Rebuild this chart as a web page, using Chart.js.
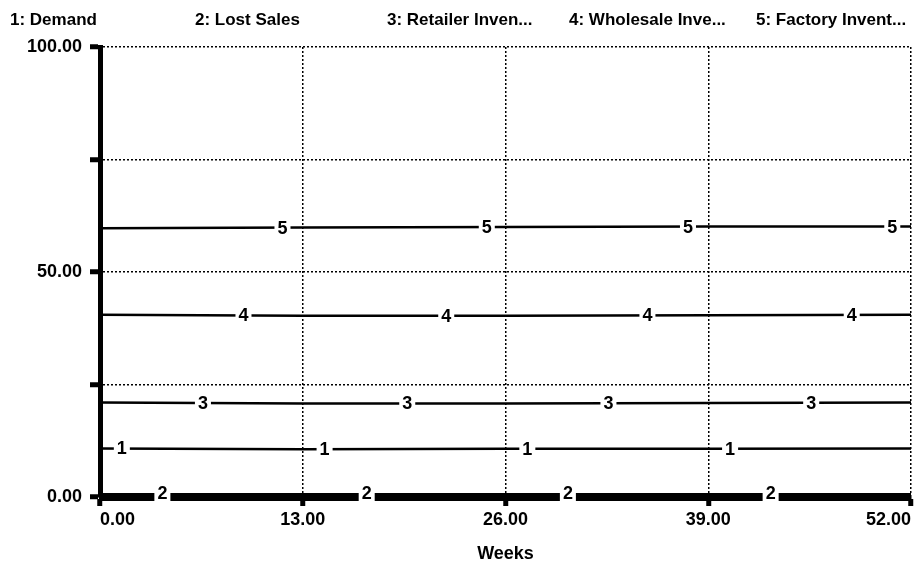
<!DOCTYPE html>
<html>
<head>
<meta charset="utf-8">
<script src="https://cdn.jsdelivr.net/npm/chart.js@4.4.1/dist/chart.umd.min.js"></script>
<style>
  html, body { margin: 0; padding: 0; background: #fff; }
  #wrap { width: 914px; height: 565px; }
</style>
</head>
<body>
<div id="wrap"><canvas id="lineChart"></canvas></div>
<script>
const weeks = [0, 13, 26, 39, 52];
const demand = [10.8, 10.6, 10.7, 10.7, 10.8];
const lostSales = [0, 0, 0, 0, 0];
const retailerInv = [21.0, 20.8, 20.8, 20.9, 21.0];
const wholesaleInv = [40.5, 40.3, 40.3, 40.4, 40.5];
const factoryInv = [59.7, 59.9, 60.0, 60.1, 60.1];

const seriesNames = ["Demand", "Lost Sales", "Retailer Inven...", "Wholesale Inve...", "Factory Invent..."];

// where the number markers sit on each line (in weeks)
const markerWeeks = [
  [1.4, 14.4, 27.4, 40.4],
  [4.0, 17.1, 30.0, 43.0],
  [6.6, 19.7, 32.6, 45.6],
  [9.2, 22.2, 35.1, 48.2],
  [11.7, 24.8, 37.7, 50.8],
];

const xTicks = [0, 13, 26, 39, 52];
const yLabelled = [0, 50, 100];

const FONT = "'Liberation Sans', Arial, sans-serif";

function toPoints(vals) {
  return weeks.map((w, i) => ({ x: w, y: vals[i] }));
}

function valueAt(vals, w) {
  for (let i = 0; i < weeks.length - 1; i++) {
    if (w >= weeks[i] && w <= weeks[i + 1]) {
      const t = (w - weeks[i]) / (weeks[i + 1] - weeks[i]);
      return vals[i] + t * (vals[i + 1] - vals[i]);
    }
  }
  return vals[vals.length - 1];
}

const allSeries = [demand, lostSales, retailerInv, wholesaleInv, factoryInv];

// 범례 + 선 번호 표시
const stellaLabels = {
  id: "stellaLabels",
  afterDatasetsDraw(chart) {
    const ctx = chart.ctx;
    const xs = chart.scales.x;
    const ys = chart.scales.y;
    ctx.save();
    ctx.font = "bold 18px " + FONT;
    ctx.textAlign = "center";
    ctx.textBaseline = "middle";
    allSeries.forEach((vals, i) => {
      markerWeeks[i].forEach((w) => {
        const px = xs.getPixelForValue(w);
        const py = ys.getPixelForValue(valueAt(vals, w));
        const num = String(i + 1);
        const tw = ctx.measureText(num).width;
        ctx.fillStyle = "#fff";
        if (i === 1) {
          ctx.fillRect(px - tw / 2 - 3, py - 6, tw + 6, 12);
        } else {
          ctx.fillRect(px - tw / 2 - 3, py - 3, tw + 6, 6);
        }
        ctx.fillStyle = "#000";
        ctx.fillText(num, px, i === 1 ? py - 3 : py + 1);
      });
    });
    ctx.restore();
  },
  afterDraw(chart) {
    const ctx = chart.ctx;
    const legendX = [10, 195, 387, 569, 756];
    ctx.save();
    ctx.font = "bold 17px " + FONT;
    ctx.fillStyle = "#000";
    ctx.textAlign = "left";
    ctx.textBaseline = "middle";
    seriesNames.forEach((name, i) => {
      ctx.fillText(i + 1 + ": " + name, legendX[i], 20);
    });
    ctx.restore();
  },
};

const lineStyle = (label, vals, width) => ({
  label: label,
  data: toPoints(vals),
  borderColor: "#000",
  backgroundColor: "#000",
  borderWidth: width,
  pointRadius: 0,
  tension: 0,
  fill: false,
  clip: false,
});

new Chart(document.querySelector("#lineChart"), {
  type: "line",
  data: {
    datasets: [
      lineStyle("1: Demand", demand, 2.5),
      lineStyle("2: Lost Sales", lostSales, 8),
      lineStyle("3: Retailer Inventory", retailerInv, 2.5),
      lineStyle("4: Wholesale Inventory", wholesaleInv, 2.5),
      lineStyle("5: Factory Inventory", factoryInv, 2.5),
    ],
  },
  options: {
    responsive: true,
    maintainAspectRatio: false,
    animation: false,
    layout: { padding: { top: 47, right: 2, left: 0, bottom: 0 } },
    plugins: {
      legend: { display: false },
      tooltip: { enabled: false },
      title: { display: false },
    },
    scales: {
      x: {
        type: "linear",
        min: 0,
        max: 52,
        afterFit: (s) => { s.height = 68; },
        afterBuildTicks: (s) => { s.ticks = xTicks.map((v) => ({ value: v })); },
        ticks: {
          color: "#000",
          font: { family: FONT, size: 18, weight: "bold" },
          padding: 3,
          align: "inner",
          maxRotation: 0,
          callback: (v) => Number(v).toFixed(2),
        },
        grid: {
          color: "#000",
          lineWidth: 1.5,
          tickLength: 9,
          tickWidth: 5,
          tickColor: "#000",
          tickBorderDash: [],
        },
        border: { display: true, color: "#000", width: 3, dash: [2, 2] },
        title: {
          display: true,
          text: "Weeks",
          color: "#000",
          font: { family: FONT, size: 18, weight: "bold" },
          padding: { top: 0, bottom: 0 },
        },
      },
      y: {
        min: 0,
        max: 100,
        afterFit: (s) => { s.width = 100; },
        ticks: {
          stepSize: 25,
          color: "#000",
          font: { family: FONT, size: 18, weight: "bold" },
          padding: 8,
          callback: (v) => (yLabelled.includes(v) ? Number(v).toFixed(2) : ""),
        },
        grid: {
          color: "#000",
          lineWidth: 1.5,
          tickLength: 10,
          tickWidth: 5,
          tickColor: "#000",
          tickBorderDash: [],
        },
        border: { display: true, color: "#000", width: 5, dash: [2, 2] },
      },
    },
  },
  plugins: [stellaLabels],
});
</script>
</body>
</html>
